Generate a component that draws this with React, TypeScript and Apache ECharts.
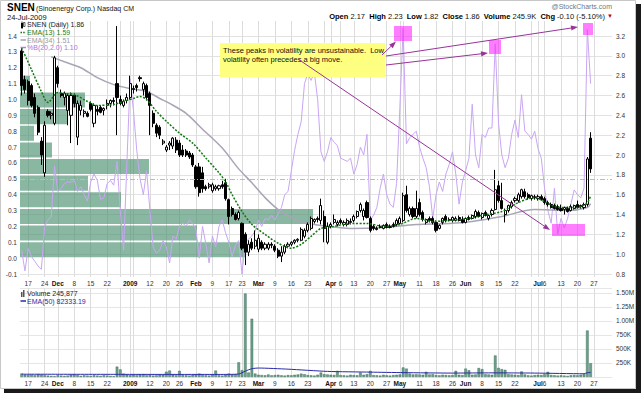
import React, { useEffect, useRef } from "react";
import * as echarts from "echarts";

// ---------------- data ----------------
const monthDays: [string, number[]][] = [
  ["2008-11", [13, 14, 17, 18, 19, 20, 21, 24, 25, 26, 28]],
  ["2008-12", [1, 2, 3, 4, 5, 8, 9, 10, 11, 12, 15, 16, 17, 18, 19, 22, 23, 24, 26, 29, 30, 31]],
  ["2009-01", [2, 5, 6, 7, 8, 9, 12, 13, 14, 15, 16, 20, 21, 22, 23, 26, 27, 28, 29, 30]],
  ["2009-02", [2, 3, 4, 5, 6, 9, 10, 11, 12, 13, 17, 18, 19, 20, 23, 24, 25, 26, 27]],
  ["2009-03", [2, 3, 4, 5, 6, 9, 10, 11, 12, 13, 16, 17, 18, 19, 20, 23, 24, 25, 26, 27, 30, 31]],
  ["2009-04", [1, 2, 3, 6, 7, 8, 9, 13, 14, 15, 16, 17, 20, 21, 22, 23, 24, 27, 28, 29, 30]],
  ["2009-05", [1, 4, 5, 6, 7, 8, 11, 12, 13, 14, 15, 18, 19, 20, 21, 22, 26, 27, 28, 29]],
  ["2009-06", [1, 2, 3, 4, 5, 8, 9, 10, 11, 12, 15, 16, 17, 18, 19, 22, 23, 24, 25, 26, 29, 30]],
  ["2009-07", [1, 2, 6, 7, 8, 9, 10, 13, 14, 15, 16, 17, 20, 21, 22, 23, 24, 27, 28, 29, 30, 31]],
  ["2009-08", [3]],
];
const dates: string[] = monthDays.flatMap(([ym, ds]) =>
  ds.map((d) => `${ym}-${String(d).padStart(2, "0")}`)
);

const tickLabels: [string, string][] = [
  ["2008-11-17", "17"], ["2008-11-24", "24"], ["2008-12-01", "Dec"], ["2008-12-08", "8"],
  ["2008-12-15", "15"], ["2008-12-22", "22"], ["2009-01-02", "2009"], ["2009-01-12", "12"],
  ["2009-01-20", "20"], ["2009-01-26", "26"], ["2009-02-02", "Feb"], ["2009-02-09", "9"],
  ["2009-02-17", "17"], ["2009-02-23", "23"], ["2009-03-02", "Mar"], ["2009-03-09", "9"],
  ["2009-03-16", "16"], ["2009-03-23", "23"], ["2009-04-01", "Apr"], ["2009-04-06", "6"],
  ["2009-04-13", "13"], ["2009-04-20", "20"], ["2009-04-27", "27"], ["2009-05-01", "May"],
  ["2009-05-11", "11"], ["2009-05-18", "18"], ["2009-05-26", "26"], ["2009-06-01", "Jun"],
  ["2009-06-08", "8"], ["2009-06-15", "15"], ["2009-06-22", "22"], ["2009-07-01", "Jul"],
  ["2009-07-06", "6"], ["2009-07-13", "13"], ["2009-07-20", "20"], ["2009-07-27", "27"],
];
const boldTicks = ["Dec", "2009", "Feb", "Mar", "Apr", "May", "Jun", "Jul"];
const weekGridDates = ["2008-12-29", "2009-01-05", "2009-03-30", "2009-05-04", "2009-06-29"];

const openP = [
  3.05, 2.76, 2.74, 2.70, 2.58, 2.48, 2.14, 1.82, 2.44, 2.40, 2.32,
  2.88, 2.62, 2.58, 2.45, 2.40, 2.60, 2.18, 2.45, 2.42, 2.42, 2.52, 2.32, 2.46, 2.48, 2.45, 2.50, 2.52, 2.55, 2.72, 2.56, 2.50, 2.55,
  2.58, 2.66, 2.70, 2.78, 2.66, 2.70, 2.62, 2.42, 2.30, 2.28, 2.12, 2.05, 2.10, 2.09, 2.15, 2.12, 2.05, 2.04, 2.02, 2.00,
  1.88, 1.88, 1.82, 1.68, 1.68, 1.64, 1.66, 1.66, 1.70, 1.72, 1.55, 1.46, 1.40, 1.36, 1.31, 1.20, 1.02, 1.12, 1.08,
  1.05, 1.12, 1.06, 1.06, 1.10, 1.08, 1.04, 0.98, 1.02, 1.08, 1.10, 1.12, 1.14, 1.14, 1.18, 1.24, 1.26, 1.33, 1.36, 1.34, 1.38, 1.12,
  1.28, 1.32, 1.30, 1.34, 1.30, 1.30, 1.32, 1.34, 1.38, 1.44, 1.38, 1.52, 1.36, 1.28, 1.26, 1.28, 1.26, 1.30, 1.28, 1.30, 1.30,
  1.31, 1.34, 1.60, 1.40, 1.46, 1.38, 1.52, 1.42, 1.32, 1.36, 1.36, 1.32, 1.26, 1.32, 1.38, 1.34, 1.34, 1.34, 1.37, 1.35,
  1.32, 1.37, 1.36, 1.38, 1.42, 1.37, 1.42, 1.36, 1.40, 1.45, 1.69, 1.54, 1.40, 1.44, 1.48, 1.54, 1.54, 1.58, 1.63, 1.60, 1.56, 1.58,
  1.56, 1.58, 1.56, 1.52, 1.50, 1.49, 1.48, 1.46, 1.45, 1.46, 1.44, 1.46, 1.50, 1.49, 1.47, 1.50, 2.17,
];
const highP = [
  3.08, 2.80, 2.76, 2.72, 2.62, 2.50, 2.18, 2.34, 2.46, 2.44, 3.00,
  2.90, 2.66, 2.64, 2.62, 2.63, 2.62, 2.55, 2.55, 2.46, 2.44, 2.54, 2.52, 2.50, 2.50, 2.48, 2.56, 2.56, 2.58, 3.30, 2.60, 2.56, 2.62,
  2.80, 2.70, 2.72, 2.80, 2.74, 2.72, 2.64, 2.45, 2.32, 2.30, 2.16, 2.10, 2.14, 2.18, 2.18, 2.15, 2.10, 2.06, 2.04, 2.02,
  1.90, 1.92, 1.88, 1.70, 1.72, 1.72, 1.70, 1.70, 1.74, 1.76, 1.56, 1.48, 1.42, 1.44, 1.32, 1.22, 1.14, 1.16, 1.24,
  1.20, 1.14, 1.12, 1.12, 1.12, 1.10, 1.06, 1.08, 1.10, 1.12, 1.13, 1.15, 1.16, 1.27, 1.26, 1.32, 1.38, 1.36, 1.38, 1.56, 1.44, 1.32,
  1.32, 1.40, 1.34, 1.36, 1.34, 1.36, 1.36, 1.40, 1.44, 1.52, 1.46, 1.54, 1.38, 1.30, 1.28, 1.30, 1.30, 1.32, 1.30, 1.32, 1.36,
  1.38, 1.62, 1.69, 1.48, 1.48, 1.64, 1.56, 1.44, 1.36, 1.38, 1.38, 1.34, 1.30, 1.37, 1.40, 1.37, 1.38, 1.38, 1.39, 1.38,
  1.37, 1.39, 1.40, 1.45, 1.44, 1.42, 1.44, 1.40, 1.46, 1.85, 1.74, 1.72, 1.46, 1.50, 1.54, 1.58, 1.62, 1.66, 1.66, 1.62, 1.60, 1.60,
  1.60, 1.60, 1.58, 1.54, 1.52, 1.51, 1.50, 1.50, 1.48, 1.48, 1.50, 1.50, 1.54, 1.50, 1.52, 1.98, 2.23,
];
const lowP = [
  2.60, 2.62, 2.50, 2.48, 2.38, 2.20, 1.90, 1.78, 2.38, 2.36, 2.30,
  2.68, 2.58, 2.50, 2.30, 2.12, 2.48, 2.10, 2.40, 2.38, 2.38, 2.44, 2.28, 2.40, 2.42, 2.40, 2.46, 2.48, 2.50, 2.20, 2.50, 2.48, 2.52,
  2.56, 2.62, 2.64, 2.74, 2.60, 2.55, 2.20, 2.28, 2.18, 2.16, 2.10, 2.03, 2.05, 2.06, 2.02, 1.98, 1.98, 1.98, 1.96, 1.88,
  1.66, 1.58, 1.62, 1.64, 1.66, 1.62, 1.64, 1.64, 1.66, 1.54, 1.30, 1.38, 1.34, 1.34, 1.04, 0.89, 0.98, 1.04, 1.05,
  1.02, 1.04, 1.04, 1.04, 1.06, 1.02, 0.96, 0.92, 1.00, 1.06, 1.08, 1.10, 1.12, 1.13, 1.16, 1.22, 1.24, 1.31, 1.32, 1.30, 1.12, 1.10,
  1.26, 1.30, 1.28, 1.30, 1.28, 1.28, 1.30, 1.32, 1.36, 1.42, 1.34, 1.36, 1.22, 1.24, 1.24, 1.26, 1.25, 1.26, 1.26, 1.27, 1.28,
  1.30, 1.32, 1.42, 1.38, 1.36, 1.36, 1.38, 1.33, 1.30, 1.32, 1.30, 1.22, 1.25, 1.30, 1.32, 1.33, 1.32, 1.33, 1.33, 1.31,
  1.31, 1.34, 1.35, 1.36, 1.37, 1.35, 1.38, 1.34, 1.38, 1.44, 1.52, 1.45, 1.32, 1.42, 1.46, 1.52, 1.52, 1.56, 1.56, 1.55, 1.54, 1.55,
  1.54, 1.54, 1.50, 1.48, 1.46, 1.45, 1.44, 1.43, 1.40, 1.42, 1.43, 1.45, 1.46, 1.46, 1.45, 1.48, 1.82,
];
const closeP = [
  2.70, 2.66, 2.55, 2.50, 2.42, 2.23, 2.00, 2.30, 2.40, 2.42, 2.98,
  2.72, 2.60, 2.62, 2.60, 2.60, 2.52, 2.52, 2.50, 2.44, 2.39, 2.46, 2.50, 2.44, 2.43, 2.47, 2.52, 2.55, 2.54, 2.58, 2.52, 2.54, 2.58,
  2.72, 2.67, 2.68, 2.77, 2.72, 2.58, 2.50, 2.32, 2.22, 2.20, 2.14, 2.08, 2.12, 2.17, 2.05, 2.00, 2.00, 2.00, 1.98, 1.90,
  1.68, 1.62, 1.66, 1.66, 1.70, 1.70, 1.68, 1.69, 1.68, 1.56, 1.38, 1.40, 1.35, 1.42, 1.06, 1.02, 1.10, 1.06, 1.14,
  1.16, 1.06, 1.10, 1.10, 1.09, 1.04, 0.98, 1.02, 1.08, 1.10, 1.12, 1.14, 1.15, 1.25, 1.24, 1.30, 1.36, 1.35, 1.35, 1.49, 1.26, 1.28,
  1.30, 1.35, 1.32, 1.32, 1.32, 1.34, 1.33, 1.38, 1.43, 1.50, 1.44, 1.37, 1.24, 1.26, 1.25, 1.27, 1.29, 1.27, 1.27, 1.28, 1.34,
  1.36, 1.59, 1.44, 1.46, 1.38, 1.46, 1.40, 1.35, 1.35, 1.34, 1.32, 1.24, 1.29, 1.36, 1.34, 1.35, 1.37, 1.36, 1.34, 1.32,
  1.36, 1.35, 1.39, 1.43, 1.38, 1.41, 1.39, 1.39, 1.44, 1.65, 1.54, 1.46, 1.44, 1.49, 1.52, 1.56, 1.60, 1.65, 1.58, 1.57, 1.59, 1.57,
  1.58, 1.55, 1.52, 1.50, 1.47, 1.46, 1.45, 1.44, 1.47, 1.43, 1.48, 1.49, 1.47, 1.48, 1.50, 1.96, 1.86,
];

// volume in thousands of shares
const volumeK = [
  62, 40, 35, 45, 30, 50, 42, 30, 25, 20, 15,
  30, 25, 20, 25, 40, 45, 35, 20, 30, 25, 20, 30, 25, 20, 30, 25, 20, 15, 185, 135, 60, 40,
  35, 40, 30, 45, 50, 30, 35, 25, 30, 40, 40, 95, 115, 40, 30, 110, 35, 30, 25, 40,
  45, 60, 35, 30, 25, 40, 115, 30, 25, 40, 60, 45, 50, 262, 122, 1490, 80, 1040, 60,
  40, 35, 30, 45, 30, 35, 40, 30, 25, 35, 30, 40, 45, 60, 50, 35, 30, 25, 40, 80, 50, 45,
  40, 35, 110, 35, 30, 25, 40, 35, 30, 80, 40, 50, 110, 35, 30, 25, 40, 30, 25, 35, 40,
  45, 170, 150, 60, 45, 50, 45, 40, 93, 45, 50, 35, 30, 40, 35, 30, 35, 110, 40, 35,
  150, 120, 40, 45, 160, 140, 50, 45, 40, 384, 163, 140, 128, 50, 45, 40, 35, 99, 45, 30, 25, 35,
  40, 35, 50, 93, 35, 30, 25, 30, 25, 20, 30, 35, 30, 40, 50, 830, 245.877,
];
const volEma50K: [number, number][] = [
  [0, 50], [30, 47], [60, 46], [66, 52], [68, 105], [70, 148], [72, 160], [81, 140], [93, 100],
  [106, 87], [116, 78], [131, 70], [143, 74], [156, 70], [171, 58], [172, 76], [173, 82.333],
];

const ema13: [number, number][] = [
  [0, 3.08], [3, 2.86], [6, 2.64], [8, 2.53], [11, 2.63], [13, 2.62], [16, 2.61], [20, 2.54], [23, 2.5],
  [28, 2.51], [31, 2.54], [34, 2.57], [36, 2.59], [38, 2.56], [41, 2.44], [44, 2.34], [48, 2.22], [52, 2.12],
  [56, 1.97], [60, 1.82], [62, 1.73], [64, 1.6], [67, 1.43], [70, 1.3], [74, 1.2], [78, 1.11], [82, 1.06],
  [85, 1.1], [88, 1.18], [91, 1.26], [95, 1.28], [100, 1.31], [105, 1.31], [110, 1.28], [115, 1.3],
  [120, 1.36], [125, 1.33], [130, 1.34], [136, 1.36], [141, 1.4], [146, 1.43], [151, 1.52], [156, 1.57],
  [159, 1.53], [162, 1.48], [166, 1.47], [169, 1.47], [172, 1.52], [173, 1.59],
];
const ema34: [number, number][] = [
  [9, 2.99], [13, 2.94], [18, 2.88], [23, 2.78], [28, 2.71], [33, 2.67], [38, 2.64], [42, 2.57], [45, 2.52],
  [50, 2.42], [55, 2.26], [61, 2.07], [66, 1.86], [70, 1.72], [74, 1.57], [78, 1.45], [82, 1.37], [86, 1.32],
  [91, 1.29], [100, 1.26], [110, 1.27], [120, 1.3], [130, 1.31], [137, 1.33], [146, 1.38], [156, 1.45],
  [166, 1.44], [172, 1.47], [173, 1.51],
];
const pctB: [number, number][] = [
  [0, 0.05], [1, -0.08], [2, 0.06], [3, 0.01], [4, -0.02], [5, -0.05], [6, -0.07], [7, 0.2], [8, 0.24], [9, 0.26],
  [10, 0.58], [11, 0.42], [12, 0.44], [13, 0.47], [14, 0.48], [15, 0.48], [16, 0.49], [17, 0.42], [18, 0.45], [19, 0.4],
  [20, 0.36], [21, 0.48], [22, 0.53], [23, 0.49], [24, 0.37], [25, 0.38], [26, 0.47], [27, 0.49], [28, 0.46], [29, 0.61],
  [30, 0.3], [31, 0.05], [32, 0.6], [33, 1.13], [34, 0.93], [35, 0.68], [36, 0.5], [37, 0.4], [38, 0.55], [39, 0.3],
  [40, 0.07], [41, 0.03], [42, 0.05], [43, 0.11], [44, 0.07], [45, -0.03], [46, 0.14], [47, 0.12], [48, 0.2], [49, 0.22],
  [50, 0.2], [51, 0.24], [52, 0.22], [53, 0.18], [54, 0.0], [55, 0.2], [56, 0.09], [57, -0.03], [58, 0.14], [59, 0.07],
  [60, 0.2], [61, 0.24], [62, 0.16], [63, 0.1], [64, 0.01], [65, 0.08], [66, 0.11], [67, -0.1], [68, 0.1], [69, 0.12],
  [70, 0.14], [71, 0.17], [72, 0.24], [73, 0.2], [74, 0.25], [75, 0.24], [76, 0.27], [77, 0.24], [78, 0.28], [79, 0.32],
  [80, 0.4], [81, 0.42], [82, 0.55], [83, 0.68], [84, 0.78], [85, 0.86], [86, 1.1], [87, 1.16], [88, 1.12], [89, 1.17],
  [90, 1.0], [91, 0.67], [92, 0.61], [93, 0.67], [94, 0.76], [95, 0.73], [96, 0.71], [97, 0.63], [98, 0.62], [99, 0.61],
  [100, 0.63], [101, 0.53], [102, 0.59], [103, 0.7], [104, 0.65], [105, 0.78], [106, 0.24], [107, 0.27], [108, 0.32], [109, 0.44],
  [110, 0.53], [111, 0.4], [112, 0.34], [113, 0.32], [114, 0.47], [115, 0.95], [116, 1.45], [117, 0.72], [118, 0.76], [119, 0.78],
  [120, 0.8], [121, 0.7], [122, 0.63], [123, 0.57], [124, 0.45], [125, 0.25], [126, 0.4], [127, 0.48], [128, 0.42], [129, 0.53],
  [130, 0.59], [131, 0.67], [132, 0.53], [133, 0.34], [134, 0.48], [135, 0.55], [136, 0.63], [137, 0.97], [138, 0.65], [139, 0.57],
  [140, 0.78], [141, 0.76], [142, 0.82], [143, 0.82], [144, 1.35], [145, 0.85], [146, 0.65], [147, 0.57], [148, 0.63], [149, 0.78],
  [150, 0.87], [151, 0.76], [152, 1.03], [153, 0.8], [154, 0.78], [155, 0.75], [156, 0.8], [157, 0.69], [158, 0.63], [159, 0.44],
  [160, 0.3], [161, 0.22], [162, 0.44], [163, 0.15], [164, 0.25], [165, 0.19], [166, 0.25], [167, 0.34], [168, 0.43], [169, 0.4],
  [170, 0.38], [171, 0.44], [172, 1.44], [173, 1.1],
];

// volume-by-price zones (price range, volume in thousands)
const vbpLow = [0.961, 1.129, 1.297, 1.464, 1.632, 1.8, 1.967, 2.135, 2.303, 2.471, 2.638];
const vbpHigh = [1.129, 1.297, 1.464, 1.632, 1.8, 1.967, 2.135, 2.303, 2.471, 2.638, 2.806];
const vbpVolK = [2520, 1982, 3282, 1131, 762, 1445, 358, 157, 526, 728, 112];

// ---------------- helpers ----------------
const FONT = "'Liberation Sans', Arial, sans-serif";
const labelByIndex: string[] = dates.map((d) => {
  const f = tickLabels.find((t) => t[0] === d);
  return f ? f[1] : "";
});
const gridIdx = new Set<number>(
  dates.map((d, i) => (labelByIndex[i] || weekGridDates.includes(d) ? i : -1)).filter((i) => i >= 0)
);

function arrowEls(x1: number, y1: number, x2: number, y2: number, color: string) {
  const dx = x2 - x1, dy = y2 - y1;
  const L = Math.hypot(dx, dy);
  const ux = dx / L, uy = dy / L;
  const hl = 7, hw = 2.6;
  const bx = x2 - ux * hl, by = y2 - uy * hl;
  return [
    { type: "line", z: 110, shape: { x1, y1, x2: bx, y2: by }, style: { stroke: color, lineWidth: 1 } },
    {
      type: "polygon", z: 110,
      shape: { points: [[x2, y2], [bx - uy * hw, by + ux * hw], [bx + uy * hw, by - ux * hw]] },
      style: { fill: color },
    },
  ];
}

const catLabel = {
  interval: 0,
  fontSize: 6.5,
  color: "#333",
  margin: 3,
  formatter: (_v: string, i: number) => {
    const l = labelByIndex[i];
    if (!l) return "";
    return boldTicks.includes(l) ? `{b|${l}}` : l;
  },
  rich: { b: { fontWeight: "bold", fontSize: 6.5, color: "#111" } },
};

export default function App() {
  const ref = useRef<HTMLDivElement>(null);
  useEffect(() => {
    if (!ref.current) return;
    const chart = echarts.init(ref.current, undefined, { renderer: "svg" });
    const n = Math.min(openP.length, highP.length, lowP.length, closeP.length);
    const candles = [];
    for (let i = 0; i < n; i++) candles.push([openP[i], closeP[i], lowP[i], highP[i]]);
    const vol = volumeK.map((v) => Math.round(v * 1000));
    const volEma = volEma50K.map(([i, v]) => [i, v * 1000]);
    const vbp = vbpLow.map((lo, k) => [lo, vbpHigh[k], vbpVolK[k]]);
    const purple = "#993399";

    const graphic: any[] = [
      // outer frame + shadow
      { type: "rect", z: 0, shape: { x: 0.5, y: 0.5, width: 635, height: 388 }, style: { fill: "#fff", stroke: "#c8c8c8", lineWidth: 1 } },
      { type: "rect", z: 0, shape: { x: 636, y: 4, width: 5, height: 389 }, style: { fill: "#1a1a1a" } },
      { type: "rect", z: 0, shape: { x: 4, y: 389, width: 637, height: 4 }, style: { fill: "#1a1a1a" } },
      // header
      { type: "text", z: 100, x: 7, y: 2.5, style: { text: "SNEN", font: `bold 10px ${FONT}`, fill: "#000" } },
      { type: "text", z: 100, x: 36, y: 5, style: { text: "(Sinoenergy Corp.) Nasdaq CM", font: `7px ${FONT}`, fill: "#111" } },
      { type: "text", z: 100, x: 7, y: 13.5, style: { text: "24-Jul-2009", font: `7.5px ${FONT}`, fill: "#111" } },
      { type: "text", z: 100, x: 612, y: 3, style: { text: "@StockCharts.com", font: `7px ${FONT}`, fill: "#777", align: "right" } },
      {
        type: "text", z: 100, x: 605, y: 12.5,
        style: {
          text: "{b|Open} 2.17  {b|High} 2.23  {b|Low} 1.82  {b|Close} 1.86  {b|Volume} 245.9K  {b|Chg} -0.10 (-5.10%)",
          font: `7.5px ${FONT}`, fill: "#111", align: "right",
          rich: { b: { fontWeight: "bold", fontSize: 7.5, fontFamily: FONT, fill: "#000" } },
        },
      },
      { type: "text", z: 100, x: 607, y: 13, style: { text: "▼", font: `6px ${FONT}`, fill: "#cc0000" } },
      // main legend
      { type: "rect", z: 100, shape: { x: 21, y: 23, width: 2, height: 5 }, style: { fill: "#000" } },
      { type: "line", z: 100, shape: { x1: 22, y1: 21.5, x2: 22, y2: 29 }, style: { stroke: "#000", lineWidth: 0.8 } },
      { type: "rect", z: 100, shape: { x: 23.5, y: 22.5, width: 1.5, height: 4 }, style: { fill: "#fff", stroke: "#000", lineWidth: 0.6 } },
      { type: "text", z: 100, x: 27, y: 21, style: { text: "SNEN (Daily) 1.86", font: `7px ${FONT}`, fill: "#222" } },
      { type: "line", z: 100, shape: { x1: 20.5, y1: 32.5, x2: 26, y2: 32.5 }, style: { stroke: "#117711", lineWidth: 1.5, lineDash: [1.5, 1.2] } },
      { type: "text", z: 100, x: 27, y: 29, style: { text: "EMA(13) 1.59", font: `7px ${FONT}`, fill: "#1b7d1b" } },
      { type: "line", z: 100, shape: { x1: 20.5, y1: 40, x2: 26, y2: 40 }, style: { stroke: "#a4a4b4", lineWidth: 1.5 } },
      { type: "text", z: 100, x: 27, y: 36.5, style: { text: "EMA(34) 1.51", font: `7px ${FONT}`, fill: "#9a9aa8" } },
      { type: "line", z: 100, shape: { x1: 20.5, y1: 47.5, x2: 26, y2: 47.5 }, style: { stroke: "#b07ee8", lineWidth: 1.5 } },
      { type: "text", z: 100, x: 27, y: 44, style: { text: "%B(20,2.0) 1.10", font: `7px ${FONT}`, fill: "#a874e0" } },
      // volume legend
      { type: "rect", z: 100, shape: { x: 21, y: 292, width: 1.5, height: 5 }, style: { fill: "#555" } },
      { type: "rect", z: 100, shape: { x: 23, y: 290, width: 1.5, height: 7 }, style: { fill: "#555" } },
      { type: "text", z: 100, x: 27, y: 289.5, style: { text: "Volume 245,877", font: `7px ${FONT}`, fill: "#222" } },
      { type: "line", z: 100, shape: { x1: 20.5, y1: 301, x2: 26, y2: 301 }, style: { stroke: "#2a2aa8", lineWidth: 1.5 } },
      { type: "text", z: 100, x: 27, y: 297.5, style: { text: "EMA(50) 82333.19", font: `7px ${FONT}`, fill: "#2a2aa8" } },
      // annotation box
      { type: "rect", z: 105, shape: { x: 220, y: 43, width: 165, height: 34 }, style: { fill: "#ffff80" } },
      {
        type: "text", z: 106, x: 223, y: 45.5,
        style: {
          text: "These peaks in volatility are unsustainable.  Low\nvolatility often precedes a big move.",
          font: `7.5px ${FONT}`, fill: "#111", lineHeight: 9,
        },
      },
      // pink markers
      { type: "rect", z: 104, shape: { x: 394, y: 26, width: 18, height: 15 }, style: { fill: "rgba(255,40,255,0.6)" } },
      { type: "rect", z: 104, shape: { x: 489, y: 40, width: 12, height: 14 }, style: { fill: "rgba(255,40,255,0.6)" } },
      { type: "rect", z: 104, shape: { x: 583, y: 23, width: 10, height: 12 }, style: { fill: "rgba(255,40,255,0.6)" } },
      { type: "rect", z: 104, shape: { x: 552, y: 224, width: 33, height: 12 }, style: { fill: "rgba(255,40,255,0.6)" } },
      ...arrowEls(382, 55, 396, 41.5, purple),
      ...arrowEls(386, 56, 578, 27, purple),
      ...arrowEls(386, 65, 488, 53, purple),
      ...arrowEls(298, 59, 550, 230, purple),
    ];

    const option: any = {
      animation: false,
      backgroundColor: "#fff",
      textStyle: { fontFamily: FONT },
      grid: [
        { left: 20, top: 36, width: 592, height: 238, show: false },
        { left: 20, top: 21, width: 592, height: 256, show: true, borderColor: "#a8a8a8", borderWidth: 1, backgroundColor: "transparent" },
        { left: 20, top: 36, width: 592, height: 238, show: false },
        { left: 20, top: 288, width: 592, height: 89, show: true, borderColor: "#a8a8a8", borderWidth: 1, backgroundColor: "transparent" },
      ],
      xAxis: [
        { type: "category", gridIndex: 0, data: dates, boundaryGap: true, show: false },
        {
          type: "category", gridIndex: 1, data: dates, boundaryGap: true,
          axisLine: { show: false }, axisTick: { show: false },
          axisLabel: catLabel,
          splitLine: { show: true, alignWithLabel: true, interval: (i: number) => gridIdx.has(i), lineStyle: { color: "#dcdcdc", width: 1 } },
        },
        { type: "value", gridIndex: 2, min: 0, max: 6630, show: false },
        {
          type: "category", gridIndex: 3, data: dates, boundaryGap: true,
          axisLine: { show: false }, axisTick: { show: false },
          axisLabel: catLabel,
          splitLine: { show: true, alignWithLabel: true, interval: (i: number) => gridIdx.has(i), lineStyle: { color: "#dcdcdc", width: 1 } },
        },
      ],
      yAxis: [
        {
          type: "value", gridIndex: 0, position: "left", min: -0.1, max: 1.4, interval: 0.1,
          axisLine: { show: false }, axisTick: { show: false }, splitLine: { show: false },
          axisLabel: {
            fontSize: 6.5, color: "#333", margin: 3,
            formatter: (v: number) => (Math.abs(v) < 1e-9 ? "0.0" : v.toFixed(1)),
          },
        },
        {
          type: "value", gridIndex: 0, position: "right", min: 0.8, max: 3.2, interval: 0.2,
          axisLine: { show: false }, axisTick: { show: false },
          splitLine: { show: true, lineStyle: { color: "#e2e2e2", width: 1 } },
          axisLabel: { fontSize: 6.5, color: "#333", margin: 4, formatter: (v: number) => v.toFixed(1) },
        },
        { type: "value", gridIndex: 1, show: false, min: 0, max: 1 },
        { type: "value", gridIndex: 2, show: false, min: 0.8, max: 3.2 },
        {
          type: "value", gridIndex: 3, position: "right", min: 0, max: 1589000, interval: 250000,
          axisLine: { show: false }, axisTick: { show: false },
          splitLine: { show: true, lineStyle: { color: "#e6e6e6", width: 1 } },
          axisLabel: {
            fontSize: 6.5, color: "#333", margin: 4, showMaxLabel: false, showMinLabel: false,
            formatter: (v: number) => (v >= 1e6 ? (v / 1e6).toFixed(2) + "M" : Math.round(v / 1000) + "K"),
          },
        },
      ],
      series: [
        {
          name: "%B", type: "line", xAxisIndex: 0, yAxisIndex: 0, data: pctB, showSymbol: false, clip: false,
          lineStyle: { color: "#c9a6f4", width: 1 }, z: 2,
          markLine: {
            silent: true, symbol: "none", label: { show: false },
            lineStyle: { color: "#caa8f2", width: 1, type: [5, 2, 1, 2] },
            data: [{ yAxis: 0.5 }],
          },
        },
        {
          name: "VBP", type: "custom", xAxisIndex: 2, yAxisIndex: 3, data: vbp, clip: false, z: 2,
          renderItem: (_p: any, api: any) => {
            const lo = api.value(0), hi = api.value(1), v = api.value(2);
            const a = api.coord([0, hi]);
            const b = api.coord([v, lo]);
            return {
              type: "rect",
              shape: { x: a[0], y: a[1] + 0.8, width: b[0] - a[0], height: b[1] - a[1] - 1.6 },
              style: { fill: "rgba(78,146,114,0.66)" },
            };
          },
        },
        {
          name: "EMA34", type: "line", xAxisIndex: 0, yAxisIndex: 1, data: ema34, showSymbol: false, clip: false,
          smooth: 0.3, lineStyle: { color: "#a6a6b6", width: 1.5 }, z: 3,
        },
        {
          name: "SNEN", type: "candlestick", xAxisIndex: 0, yAxisIndex: 1, data: candles, clip: false,
          barWidth: 2.6, z: 3,
          itemStyle: { color: "#ffffff", color0: "#000000", borderColor: "#000000", borderColor0: "#000000", borderWidth: 1 },
        },
        {
          name: "EMA13", type: "line", xAxisIndex: 0, yAxisIndex: 1, data: ema13, showSymbol: false, clip: false,
          smooth: 0.3, lineStyle: { color: "#117711", width: 1.5, type: [2, 1.5] }, z: 4,
        },
        {
          name: "Volume", type: "bar", xAxisIndex: 3, yAxisIndex: 4, data: vol, barWidth: 2.6,
          itemStyle: { color: "#6aa28a", borderColor: "#2f5e4c", borderWidth: 0.4 }, z: 2,
        },
        {
          name: "VolEMA", type: "line", xAxisIndex: 3, yAxisIndex: 4, data: volEma, showSymbol: false,
          smooth: 0.2, lineStyle: { color: "#2a2aa8", width: 1 }, z: 3,
        },
      ],
      graphic,
    };
    chart.setOption(option);
    return () => chart.dispose();
  }, []);
  return (
    <div
      ref={ref}
      style={{ position: "fixed", left: 0, top: 0, width: 644, height: 393, background: "#fff" }}
    />
  );
}
